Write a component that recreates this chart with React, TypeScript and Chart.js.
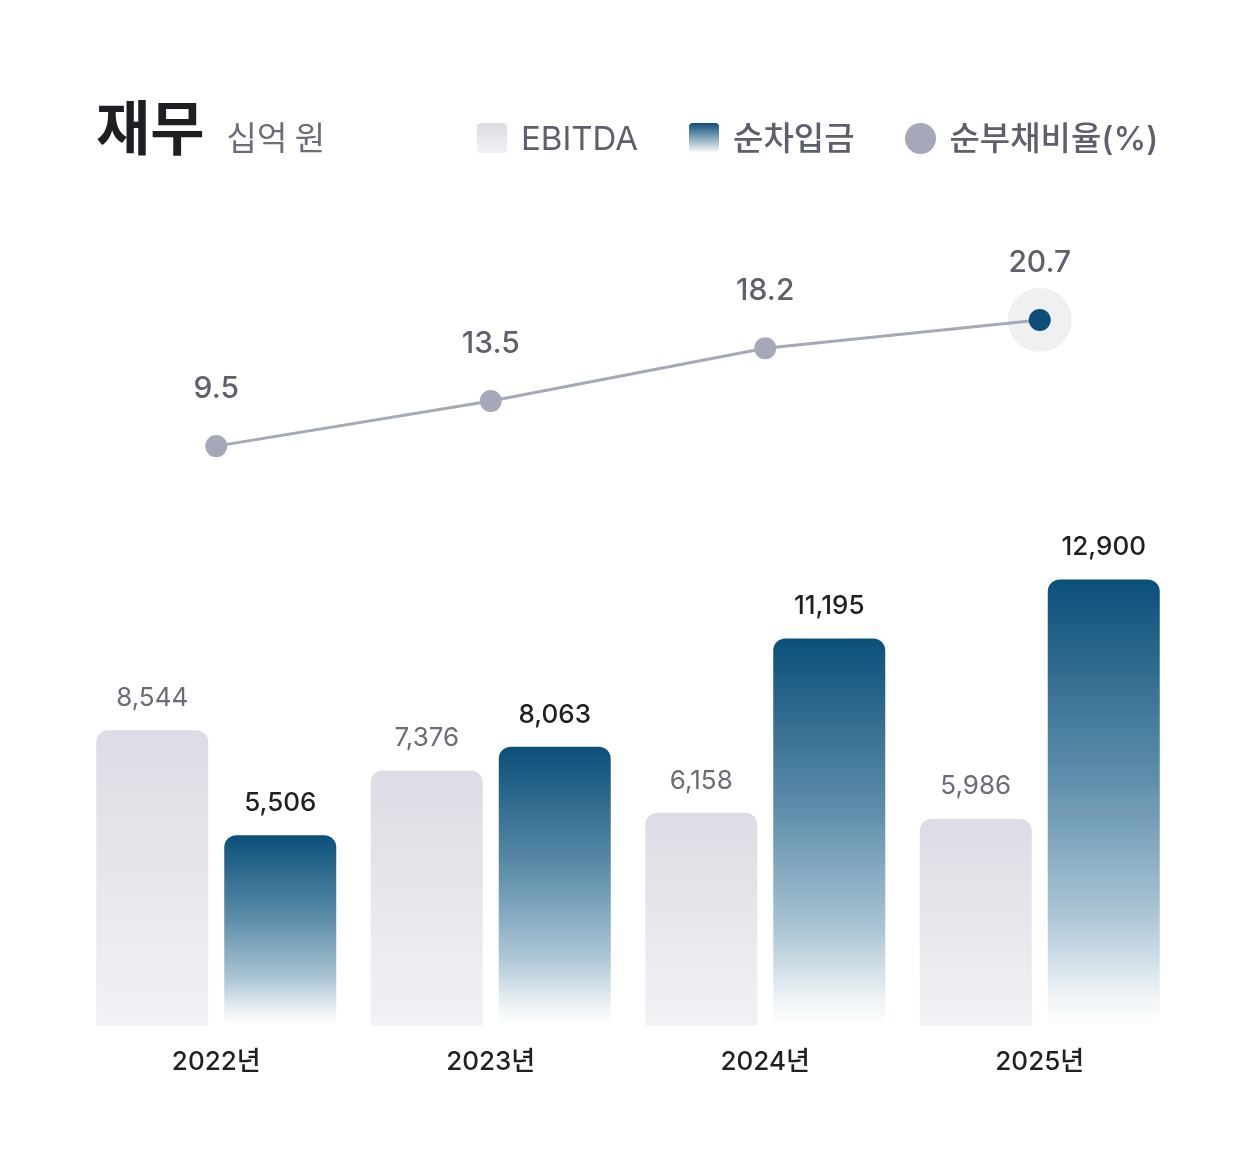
import React, { useEffect, useRef } from "react";
import { Chart, registerables } from "chart.js";

Chart.register(...registerables);

const categories = ["2022년", "2023년", "2024년", "2025년"];
const ebitda = [8544, 7376, 6158, 5986];
const netDebt = [5506, 8063, 11195, 12900];
const netDebtRatio = [9.5, 13.5, 18.2, 20.7];

const FONT = "Inter, 'Noto Sans CJK KR', sans-serif";

function fmt(v: number) {
  return v.toLocaleString("en-US");
}

function barGradient(ctx: any, stops: [number, string][], fallback: string) {
  const chart = ctx.chart;
  const area = chart.chartArea;
  if (!area || ctx.type !== "data") return fallback;
  const y = chart.scales.y;
  const v = ctx.raw as number;
  const top = y.getPixelForValue(v);
  const bottom = y.getPixelForValue(0);
  const g = chart.ctx.createLinearGradient(0, top, 0, bottom);
  stops.forEach(([o, c]) => g.addColorStop(o, c));
  return g;
}

const labelPlugin = {
  id: "valueLabels",
  beforeDatasetsDraw(chart: any) {
    const meta = chart.getDatasetMeta(0);
    const pts = meta.data;
    if (!pts.length) return;
    const p = pts[pts.length - 1];
    const c = chart.ctx;
    c.save();
    c.fillStyle = "#f0f0f3";
    c.beginPath();
    c.arc(p.x, p.y, 32, 0, Math.PI * 2);
    c.fill();
    c.restore();
  },
  afterDatasetsDraw(chart: any) {
    const c = chart.ctx;
    c.save();
    c.textAlign = "center";
    c.textBaseline = "middle";
    const lm = chart.getDatasetMeta(0);
    lm.data.forEach((el: any, i: number) => {
      c.font = `500 30px ${FONT}`;
      c.fillStyle = "#5e616d";
      c.fillText(netDebtRatio[i].toFixed(1), el.x, el.y - 57);
    });
    const em = chart.getDatasetMeta(1);
    em.data.forEach((el: any, i: number) => {
      c.font = `400 26px ${FONT}`;
      c.fillStyle = "#6a6d78";
      c.fillText(fmt(ebitda[i]), el.x, el.y - 32);
    });
    const nm = chart.getDatasetMeta(2);
    nm.data.forEach((el: any, i: number) => {
      c.font = `500 26px ${FONT}`;
      c.fillStyle = "#1f2024";
      c.fillText(fmt(netDebt[i]), el.x, el.y - 32);
    });
    c.restore();
  },
};

export default function App() {
  const ref = useRef<HTMLCanvasElement | null>(null);

  useEffect(() => {
    if (!ref.current) return;
    const chart = new Chart(ref.current, {
      type: "bar",
      data: {
        labels: categories,
        datasets: [
          {
            type: "line",
            label: "순부채비율(%)",
            data: netDebtRatio,
            yAxisID: "y1",
            order: -1,
            borderColor: "#a5a8b8",
            borderWidth: 3,
            pointRadius: 11,
            pointHoverRadius: 11,
            pointBorderWidth: 0,
            pointBackgroundColor: netDebtRatio.map((_, i) =>
              i === netDebtRatio.length - 1 ? "#0b4f79" : "#a5a8b8"
            ),
            tension: 0,
          } as any,
          {
            type: "bar",
            label: "EBITDA",
            data: ebitda,
            yAxisID: "y",
            backgroundColor: (ctx: any) =>
              barGradient(ctx, [[0, "#dcdde4"], [1, "#f1f2f5"]], "#e4e5ea"),
            borderRadius: { topLeft: 12, topRight: 12, bottomLeft: 0, bottomRight: 0 },
            borderSkipped: "bottom",
            categoryPercentage: 256 / 274.5,
            barPercentage: 112 / 128,
          },
          {
            type: "bar",
            label: "순차입금",
            data: netDebt,
            yAxisID: "y",
            backgroundColor: (ctx: any) =>
              barGradient(
                ctx,
                [
                  [0, "#0b4f79"],
                  [0.45, "#5f8fab"],
                  [0.75, "#abc5d5"],
                  [0.93, "#eef3f6"],
                  [1, "#ffffff"],
                ],
                "#5f8fab"
              ),
            borderRadius: { topLeft: 12, topRight: 12, bottomLeft: 0, bottomRight: 0 },
            borderSkipped: "bottom",
            categoryPercentage: 256 / 274.5,
            barPercentage: 112 / 128,
          },
        ],
      },
      options: {
        responsive: false,
        animation: false,
        events: [],
        layout: { padding: { left: 79, right: 79, top: 230, bottom: 63 } },
        plugins: {
          legend: { display: false },
          tooltip: { enabled: false },
          title: { display: false },
        },
        scales: {
          x: {
            offset: true,
            grid: { display: false, drawTicks: false },
            border: { display: false },
            ticks: {
              padding: 21,
              color: "#1f2024",
              font: { family: FONT, size: 26, weight: "500" as any },
            },
          },
          y: {
            display: false,
            min: 0,
            max: 23000,
          },
          y1: {
            display: false,
            min: -42,
            max: 28.7,
          },
        },
      },
      plugins: [labelPlugin],
    });
    return () => chart.destroy();
  }, []);

  const legendText: React.CSSProperties = {
    fontFamily: FONT,
    fontSize: 33,
    color: "#5d606c",
    lineHeight: "40px",
    whiteSpace: "nowrap",
  };
  const legendKo: React.CSSProperties = { ...legendText, fontSize: 33, fontWeight: 500 };

  return (
    <div style={{ position: "absolute", left: 0, top: 0, width: 1256, height: 1162, background: "#ffffff" }}>
      <canvas ref={ref} width={1256} height={1162} style={{ position: "absolute", left: 0, top: 0, width: 1256, height: 1162 }} />
      <div style={{ position: "absolute", left: 96, top: 90, display: "flex", alignItems: "baseline", whiteSpace: "nowrap" }}>
        <span style={{ fontFamily: "'Noto Sans CJK KR', sans-serif", fontWeight: 700, fontSize: 59, color: "#1e1f22", lineHeight: "70px" }}>재무</span>
        <span style={{ fontFamily: "'Noto Sans CJK KR', sans-serif", fontWeight: 400, fontSize: 33, color: "#6a6d78", marginLeft: 22 }}>십억 원</span>
      </div>
      <div style={{ position: "absolute", left: 477, top: 118, display: "flex", alignItems: "center" }}>
        <span style={{ width: 30, height: 30, borderRadius: 4, background: "linear-gradient(#dcdde4, #f1f2f5)", display: "inline-block" }} />
        <span style={{ ...legendText, marginLeft: 14 }}>EBITDA</span>
        <span style={{ width: 30, height: 30, borderRadius: 4, background: "linear-gradient(#0b4f79, #ffffff)", display: "inline-block", marginLeft: 51 }} />
        <span style={{ ...legendKo, marginLeft: 14 }}>순차입금</span>
        <span style={{ width: 31, height: 31, borderRadius: "50%", background: "#a5a8b8", display: "inline-block", marginLeft: 50 }} />
        <span style={{ ...legendKo, marginLeft: 14 }}>순부채비율(%)</span>
      </div>
    </div>
  );
}
